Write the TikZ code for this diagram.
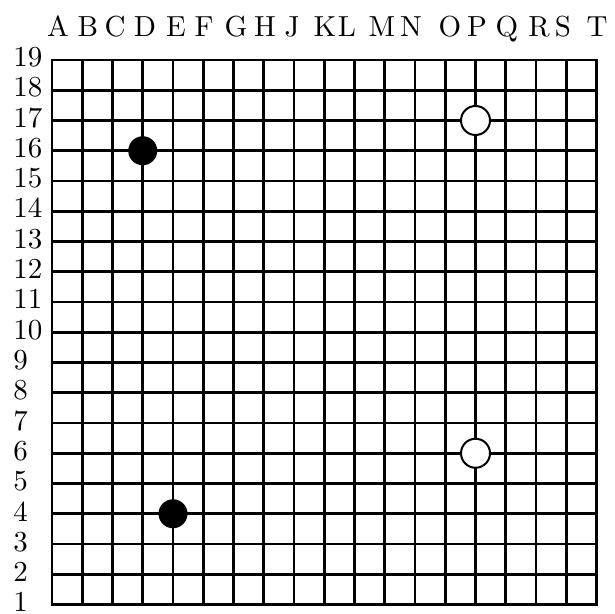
\documentclass[tikz,border=0pt]{standalone}
\begin{document}
\begin{tikzpicture}[x=0.5pt,y=-0.5pt,
  gridline/.style={line width=1.35pt, line cap=rect},
  collabel/.style={anchor=base, inner sep=0pt},
  rowlabel/.style={anchor=base west, inner sep=0pt},
  blackstone/.style={circle, fill=black, inner sep=0pt, minimum size=14.5pt},
  whitestone/.style={circle, draw=black, fill=white, line width=1pt, inner sep=0pt, minimum size=14.5pt}]
\useasboundingbox (0,0) rectangle (615,614);
\foreach \i in {0,...,18} {
  \draw[gridline] ({52+\i*30.25},60) -- ({52+\i*30.25},604.5);
  \draw[gridline] (52,{60+\i*30.25}) -- (596.5,{60+\i*30.25});
}
\foreach \l/\x in {A/58,B/88,C/115,D/145,E/176,F/204,G/236,H/265,J/292,K/325,L/347,M/382,N/411,O/450,P/477,Q/507,R/539,S/563,T/597} {
  \node[collabel] (col-\l) at (\x,37) {\scalebox{1.45}{\normalsize\l}};
}
\foreach \r in {1,...,19} {
  \node[rowlabel] (row-\r) at (13,{66.5+(19-\r)*30.3}) {\scalebox{1.45}{\normalsize\r}};
}
\node[blackstone] (D16) at ({52+3*30.25},{60+3*30.25}) {};
\node[blackstone] (E4) at ({52+4*30.25},{60+15*30.25}) {};
\node[whitestone] (P17) at ({52+14*30.25},{60+2*30.25}) {};
\node[whitestone] (P6) at ({52+14*30.25},{60+13*30.25}) {};
\end{tikzpicture}
\end{document}
